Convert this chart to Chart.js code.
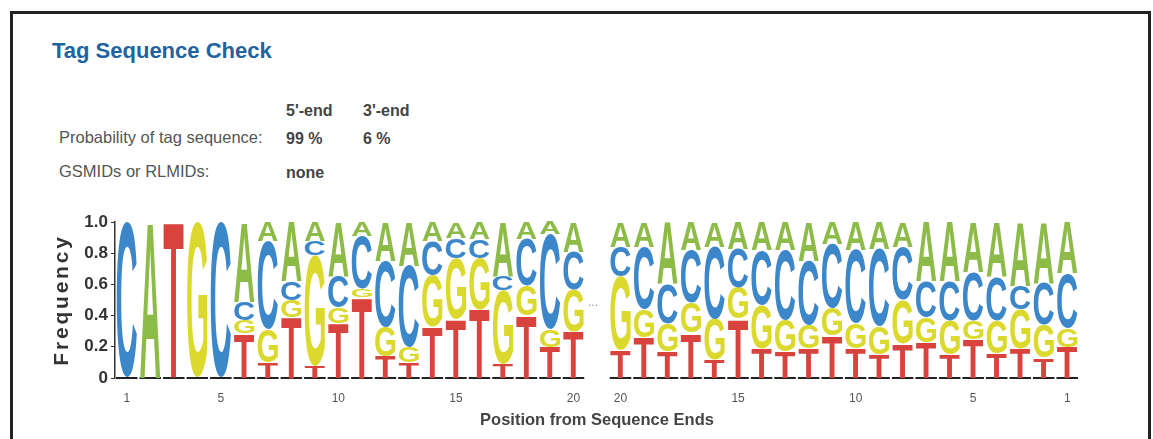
<!DOCTYPE html>
<html>
<head>
<meta charset="utf-8">
<title>Tag Sequence Check</title>
<script src="https://cdn.jsdelivr.net/npm/chart.js@4/dist/chart.umd.min.js"></script>
<style>
  body { margin: 0; width: 1153px; height: 439px; overflow: hidden; background: #fff;
         font-family: "Liberation Sans", Arial, sans-serif; }
  .box { position: absolute; left: 10px; top: 11px; width: 1135px; height: 460px; border: 3px solid #222; }
  .t { position: absolute; white-space: nowrap; line-height: 1.2; }
  .title { left: 52px; top: 38px; font-size: 22px; font-weight: bold; color: #1f639f; }
  .lab { font-size: 16.5px; color: #555; }
  .val { font-size: 16px; font-weight: bold; color: #444; }
  #logo { position: absolute; left: 0; top: 200px; }
</style>
</head>
<body>
<div class="box"></div>
<div class="t title">Tag Sequence Check</div>
<div class="t val" style="left:286px;top:101px">5'-end</div>
<div class="t val" style="left:363px;top:101px">3'-end</div>
<div class="t lab" style="left:59px;top:128px">Probability of tag sequence:</div>
<div class="t val" style="left:286px;top:129px">99 %</div>
<div class="t val" style="left:363px;top:129px">6 %</div>
<div class="t lab" style="left:59px;top:162px">GSMIDs or RLMIDs:</div>
<div class="t val" style="left:286px;top:163px">none</div>
<canvas id="logo" width="1153" height="239"></canvas>
<script>
// positions counted from each end of the tag sequence
const leftPositions = [1, 2, 3, 4, 5, 6, 7, 8, 9, 10, 11, 12, 13, 14, 15, 16, 17, 18, 19, 20];
const rightPositions = [20, 19, 18, 17, 16, 15, 14, 13, 12, 11, 10, 9, 8, 7, 6, 5, 4, 3, 2, 1];
const shownTicks = ['1', '5', '10', '15', '20'];

const letters = ['T', 'G', 'C', 'A'];
const letterColors = ['#d8433e', '#dbd92e', '#3c86ca', '#8dbb47'];

// 5'-end frequencies
const t5 = [0, 0, 1, 0, 0, 0.29, 0.10, 0.39, 0.08, 0.35, 0.52, 0.14, 0.10, 0.33, 0.38, 0.44, 0.09, 0.40, 0.20, 0.30];
const g5 = [0, 0, 0, 1, 0, 0.08, 0.21, 0.11, 0.71, 0.10, 0.05, 0.19, 0.10, 0.33, 0.39, 0.33, 0.47, 0.19, 0.11, 0.27];
const c5 = [1, 0, 0, 0, 1, 0.12, 0.57, 0.12, 0.09, 0.20, 0.34, 0.42, 0.52, 0.22, 0.13, 0.12, 0.09, 0.30, 0.61, 0.24];
const a5 = [0, 1, 0, 0, 0, 0.51, 0.12, 0.38, 0.12, 0.35, 0.09, 0.25, 0.28, 0.12, 0.10, 0.11, 0.35, 0.11, 0.08, 0.19];

// 3'-end frequencies (position 20 down to 1)
const t3 = [0.18, 0.26, 0.17, 0.29, 0.12, 0.38, 0.19, 0.17, 0.19, 0.27, 0.19, 0.15, 0.22, 0.23, 0.15, 0.25, 0.16, 0.19, 0.13, 0.20];
const g3 = [0.47, 0.18, 0.18, 0.19, 0.26, 0.20, 0.28, 0.20, 0.15, 0.18, 0.16, 0.18, 0.28, 0.16, 0.22, 0.12, 0.21, 0.25, 0.21, 0.12];
const c3 = [0.19, 0.40, 0.25, 0.34, 0.46, 0.25, 0.35, 0.45, 0.41, 0.41, 0.47, 0.50, 0.34, 0.23, 0.25, 0.31, 0.28, 0.15, 0.27, 0.35];
const a3 = [0.16, 0.16, 0.40, 0.18, 0.16, 0.17, 0.18, 0.18, 0.25, 0.14, 0.18, 0.17, 0.16, 0.38, 0.38, 0.32, 0.35, 0.41, 0.39, 0.33];

const gapLabel = '';
const labels = [...leftPositions.map(String), gapLabel, ...rightPositions.map(String)];
const join = (a, b) => [...a, null, ...b];
const series = [join(t5, t3), join(g5, g3), join(c5, c3), join(a5, a3)];

const glyphFont = 'bold 100px "Liberation Sans", Arial, sans-serif';

function drawLetter(ctx, ch, color, x, y, w, h) {
  ctx.save();
  ctx.font = glyphFont;
  ctx.textAlign = 'left';
  ctx.textBaseline = 'alphabetic';
  const m = ctx.measureText(ch);
  const gw = m.actualBoundingBoxLeft + m.actualBoundingBoxRight;
  const gh = m.actualBoundingBoxAscent + m.actualBoundingBoxDescent;
  ctx.translate(x, y);
  ctx.scale(w / gw, h / gh);
  ctx.fillStyle = color;
  ctx.fillText(ch, m.actualBoundingBoxLeft, m.actualBoundingBoxAscent);
  ctx.restore();
}

const logoPlugin = {
  id: 'logo',
  afterDatasetsDraw(chart) {
    const ctx = chart.ctx;
    const xs = chart.scales.x, ys = chart.scales.y;
    const step = xs.width / chart.data.labels.length;
    const y0 = ys.getPixelForValue(0);

    ctx.save();
    ctx.fillStyle = '#222';
    chart.data.labels.forEach((lab, i) => {
      if (lab === gapLabel) return;
      const cx = xs.getPixelForValue(i);
      ctx.fillRect(cx - step / 2 + 1, y0 - 1, step - 2, 2);
    });
    ctx.restore();

    chart.data.datasets.forEach((ds, di) => {
      chart.getDatasetMeta(di).data.forEach(bar => {
        const p = bar.getProps(['x', 'y', 'base', 'width'], true);
        const h = p.base - p.y;
        if (!(h > 0.3)) return;
        drawLetter(ctx, ds.label, letterColors[di], p.x - p.width / 2, p.y, p.width, h);
      });
    });

    // gap marker between the two ends
    ctx.save();
    ctx.fillStyle = '#999';
    ctx.font = '12px "Liberation Sans", Arial, sans-serif';
    ctx.textAlign = 'center';
    ctx.textBaseline = 'middle';
    ctx.fillText('...', xs.getPixelForValue(labels.indexOf(gapLabel)) - 4, ys.getPixelForValue(0.48));
    ctx.restore();

    // y axis title with letter spacing
    const ca = chart.chartArea;
    ctx.save();
    ctx.translate(62, (ca.top + ca.bottom) / 2);
    ctx.rotate(-Math.PI / 2);
    ctx.font = 'bold 21px "Liberation Sans", Arial, sans-serif';
    ctx.letterSpacing = '2.8px';
    ctx.fillStyle = '#333';
    ctx.textAlign = 'center';
    ctx.textBaseline = 'middle';
    ctx.fillText('Frequency', 0, 0);
    ctx.restore();
  }
};

new Chart(document.getElementById('logo').getContext('2d'), {
  type: 'bar',
  data: {
    labels,
    datasets: letters.map((l, i) => ({
      label: l,
      data: series[i],
      backgroundColor: 'rgba(0,0,0,0)',
      borderWidth: 0,
      barPercentage: 0.86,
      categoryPercentage: 1
    }))
  },
  options: {
    responsive: false,
    animation: false,
    layout: { padding: { left: 0, right: 74, top: 22, bottom: 0 } },
    plugins: { legend: { display: false }, tooltip: { enabled: false } },
    scales: {
      x: {
        stacked: true,
        grid: { display: false },
        border: { display: false },
        ticks: {
          autoSkip: false,
          maxRotation: 0,
          padding: 5,
          color: '#555',
          font: { size: 12, family: '"Liberation Sans", Arial, sans-serif' },
          callback: (v, i) => shownTicks.includes(labels[i]) ? labels[i] : ''
        },
        title: {
          display: true,
          text: 'Position from Sequence Ends',
          color: '#444',
          font: { size: 16.5, weight: 'bold', family: '"Liberation Sans", Arial, sans-serif' },
          padding: { top: 0, bottom: 9 }
        },
        afterFit: s => { s.height = 61; }
      },
      y: {
        stacked: true,
        min: 0,
        max: 1,
        grid: { drawOnChartArea: false, tickLength: 4, color: '#333' },
        border: { color: '#333', width: 1.5 },
        ticks: {
          stepSize: 0.1,
          padding: 3,
          color: '#333',
          font: { size: 17, weight: 'bold', family: '"Liberation Sans", Arial, sans-serif' },
          callback: v => {
            const k = Math.round(v * 10);
            if (k === 0) return '0';
            return k % 2 === 0 ? (k / 10).toFixed(1) : '';
          }
        },
        afterFit: s => { s.width = 115; }
      }
    }
  },
  plugins: [logoPlugin]
});
</script>
</body>
</html>
